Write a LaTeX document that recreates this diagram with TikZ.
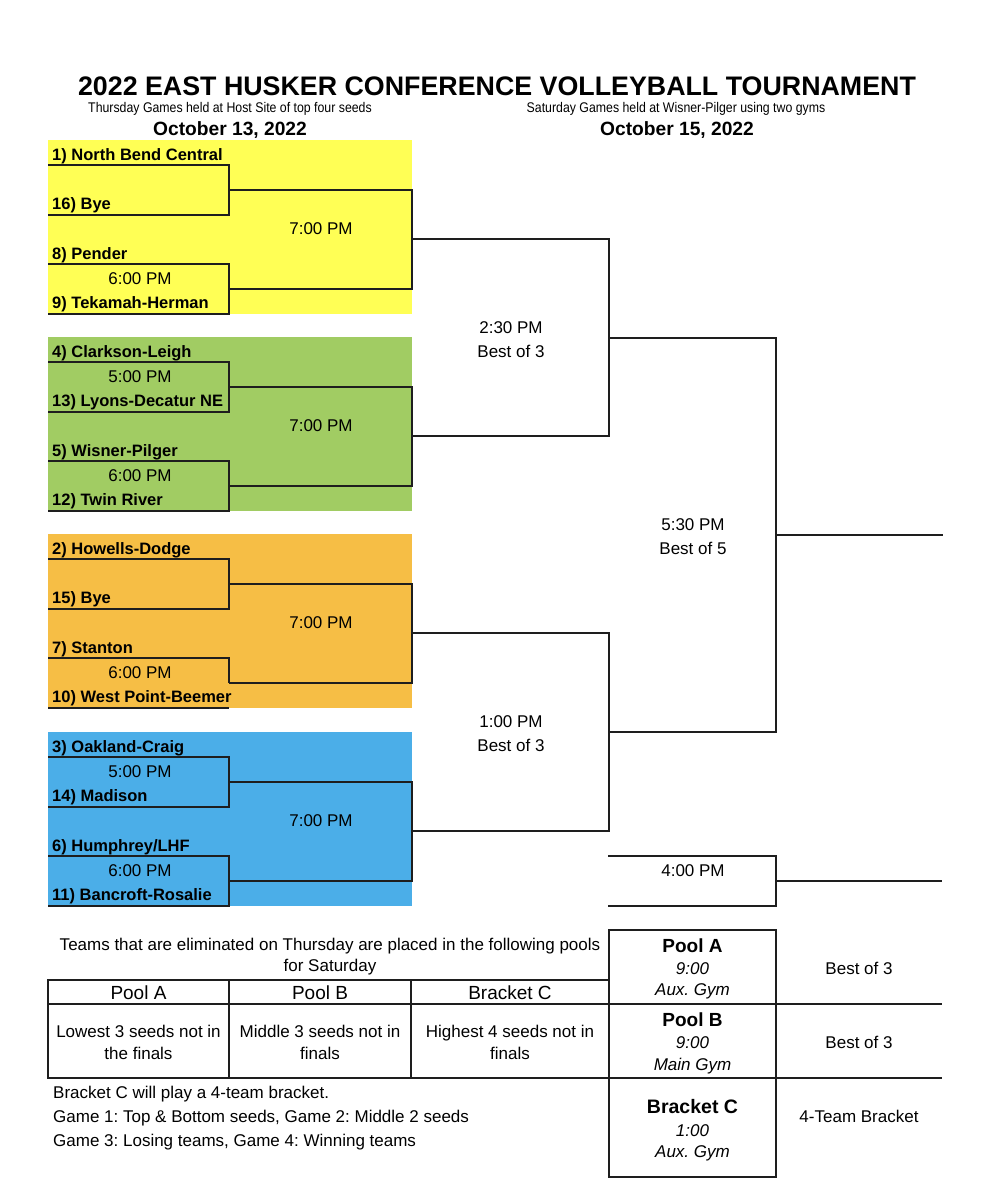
\documentclass[tikz,border=0pt]{standalone}
\usepackage{fontspec}
\setmainfont{Liberation Sans}
\newfontfamily\narrowfont[FakeStretch=0.88]{Liberation Sans}
\definecolor{cyel}{RGB}{255,255,85}
\definecolor{cgrn}{RGB}{161,204,99}
\definecolor{corg}{RGB}{246,190,69}
\definecolor{cblu}{RGB}{75,174,232}
\definecolor{cline}{RGB}{30,30,30}
\frenchspacing
\newcommand\fs[1]{\fontsize{#1}{#1}\selectfont}
% #1 top, #2 colour, #3 prefix, #4-#7 teams
\newcommand\hgroup[7]{%
  \fill[#2] (48,#1) rectangle (412,{#1+174});
  \coordinate (#3s1) at (48,{#1+25});
  \coordinate (#3s2) at (48,{#1+75});
  \coordinate (#3s3) at (48,{#1+124});
  \coordinate (#3s4) at (48,{#1+174});
  \coordinate (#3j1) at (229,{#1+50});
  \coordinate (#3j2) at (229,{#1+149});
  \coordinate (#3k) at (412,{#1+99});
  \node[team] (#3n1) at (52,{#1+20}) {#4};
  \node[team] (#3n2) at (52,{#1+69}) {#5};
  \node[team] (#3n3) at (52,{#1+119}) {#6};
  \node[team] (#3n4) at (52,{#1+168}) {#7};
  \node[tm] (#3g2) at (140,{#1+144}) {6:00 PM};
  \node[tm] (#3g3) at (321,{#1+94}) {7:00 PM};
  \draw[br] (#3s1) -| (#3j1) |- (#3s2);
  \draw[br] (#3j1) -| (#3k) |- (#3j2);
}
\newcommand\lowbracket[1]{%
  \draw[br] (#1s3) -| (#1j2) |- (#1s4);
}
\begin{document}
\begin{tikzpicture}[x=1pt,y=-1pt,
  br/.style={line width=1.4pt, draw=cline},
  lbl/.style={inner sep=0pt, anchor=base},
  team/.style={inner sep=0pt, anchor=base west, font=\fs{16.5}\bfseries},
  tm/.style={inner sep=0pt, anchor=base, font=\fs{17}},
  note/.style={inner sep=0pt, anchor=base west, font=\fs{17}},
  hd/.style={inner sep=0pt, anchor=base, font=\fs{19}\bfseries},
  it/.style={inner sep=0pt, anchor=base, font=\fs{17}\itshape}]
\fill[white] (0,0) rectangle (1001,1200);
\useasboundingbox (0,0) rectangle (1001,1200);

% header
\node[lbl, font=\fs{26.8}\bfseries] (title) at (497,95) {2022 EAST HUSKER CONFERENCE VOLLEYBALL TOURNAMENT};
\node[lbl, font=\narrowfont\fs{14}] (sub1) at (230,112.7) {Thursday Games held at Host Site of top four seeds};
\node[lbl, font=\fs{19.2}\bfseries] (d1) at (230,135) {October 13, 2022};
\node[lbl, font=\narrowfont\fs{14}] (sub2) at (676,112.7) {Saturday Games held at Wisner-Pilger using two gyms};
\node[lbl, font=\fs{19.2}\bfseries] (d2) at (677,135) {October 15, 2022};

% groups
\hgroup{140}{cyel}{Y}{1) North Bend Central}{16) Bye}{8) Pender}{9) Tekamah-Herman}
\lowbracket{Y}
\hgroup{337}{cgrn}{G}{4) Clarkson-Leigh}{13) Lyons-Decatur NE}{5) Wisner-Pilger}{12) Twin River}
\lowbracket{G}
\node[tm] (Gg1) at (140,382) {5:00 PM};
\hgroup{534}{corg}{O}{2) Howells-Dodge}{15) Bye}{7) Stanton}{10) West Point-Beemer}
\draw[br] (Os3) -| (Oj2);
\draw[br] (Os4) -- (229,708);
\hgroup{732}{cblu}{B}{3) Oakland-Craig}{14) Madison}{6) Humphrey/LHF}{11) Bancroft-Rosalie}
\lowbracket{B}
\node[tm] (Bg1) at (140,777) {5:00 PM};

% Saturday bracket
\coordinate (r1) at (609,338);
\coordinate (r2) at (609,732);
\coordinate (fin) at (776,535);
\coordinate (champ) at (943,535);
\draw[br] (Yk) -| (r1) |- (Gk);
\draw[br] (Ok) -| (r2) |- (Bk);
\draw[br] (r1) -| (fin) |- (r2);
\draw[br] (fin) -- (champ);
\node[tm] (t230) at (511,333) {2:30 PM};
\node[tm] (b230) at (511,357) {Best of 3};
\node[tm] (t100) at (511,727) {1:00 PM};
\node[tm] (b100) at (511,751) {Best of 3};
\node[tm] (t530) at (693,530) {5:30 PM};
\node[tm] (b530) at (693,554) {Best of 5};

\coordinate (c4a) at (608,856);
\coordinate (c4j) at (776,881);
\coordinate (c4b) at (608,906);
\coordinate (c4o) at (942,881);
\draw[br] (c4a) -| (c4j) |- (c4b);
\draw[br] (c4j) -- (c4o);
\node[tm] (t400) at (693,876) {4:00 PM};

% pools table
\node[tm] (elim1) at (330,950) {Teams that are eliminated on Thursday are placed in the following pools};
\node[tm] (elim2) at (330,971) {for Saturday};
\draw[br] (48,980) rectangle (609,1078);
\draw[br] (229,980) -- (229,1078);
\draw[br] (411,980) -- (411,1078);
\draw[br] (48,1004) -- (942,1004);
\draw[br] (48,1078) -- (942,1078);
\draw[br] (609,930) rectangle (776,1177);

\node[tm, font=\fs{19}] (hA) at (138.5,999) {Pool A};
\node[tm, font=\fs{19}] (hB) at (320,999) {Pool B};
\node[tm, font=\fs{19}] (hC) at (510,999) {Bracket C};
\node[tm] (cA1) at (138.5,1037) {Lowest 3 seeds not in};
\node[tm] (cA2) at (138.5,1059) {the finals};
\node[tm] (cB1) at (320,1037) {Middle 3 seeds not in};
\node[tm] (cB2) at (320,1059) {finals};
\node[tm] (cC1) at (510,1037) {Highest 4 seeds not in};
\node[tm] (cC2) at (510,1059) {finals};

\node[note] (n1) at (53,1098) {Bracket C will play a 4-team bracket.};
\node[note] (n2) at (53,1122) {Game 1: Top \& Bottom seeds, Game 2: Middle 2 seeds};
\node[note] (n3) at (53,1146) {Game 3: Losing teams, Game 4: Winning teams};

% right column
\node[hd] (pA) at (692.5,952) {Pool A};
\node[it] (pAt) at (692.5,974) {9:00};
\node[it] (pAg) at (692.5,995) {Aux. Gym};
\node[tm] (pAb) at (859,974) {Best of 3};
\node[hd] (pB) at (692.5,1026) {Pool B};
\node[it] (pBt) at (692.5,1048) {9:00};
\node[it] (pBg) at (692.5,1070) {Main Gym};
\node[tm] (pBb) at (859,1048) {Best of 3};
\node[hd, font=\fs{19.5}\bfseries] (pC) at (692.5,1113) {Bracket C};
\node[it] (pCt) at (692.5,1136) {1:00};
\node[it] (pCg) at (692.5,1157) {Aux. Gym};
\node[tm] (pCb) at (859,1122) {4-Team Bracket};
\end{tikzpicture}
\end{document}
